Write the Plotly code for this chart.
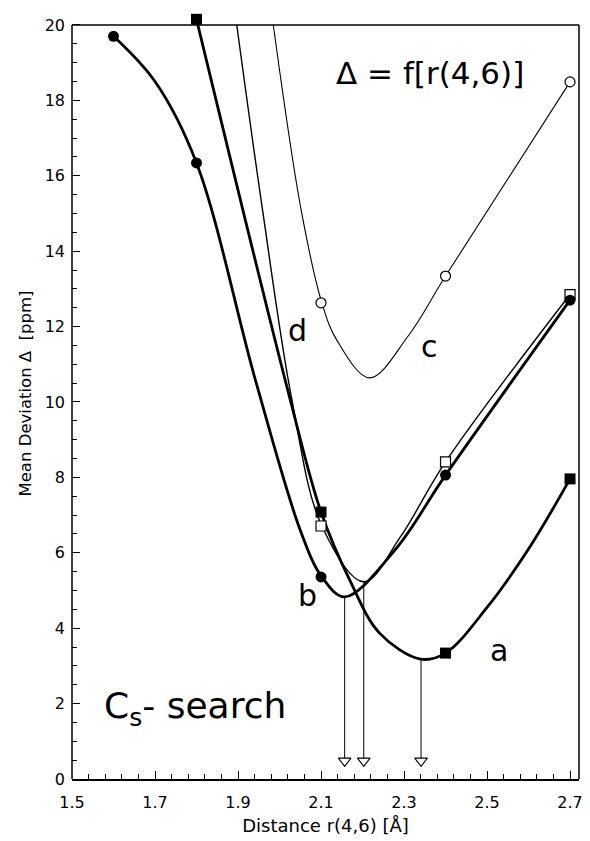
import plotly.graph_objects as go

# ---- measured points (markers) ----
a_x = [1.8, 2.1, 2.4, 2.7]
a_y = [20.15, 7.08, 3.34, 7.96]
b_x = [1.6, 1.8, 2.1, 2.4, 2.7]
b_y = [19.7, 16.34, 5.36, 8.06, 12.7]
c_x = [2.1, 2.4, 2.7]
c_y = [12.63, 13.34, 18.49]
d_x = [2.1, 2.4, 2.7]
d_y = [6.71, 8.41, 12.85]

# ---- fitted curves, points ----
a_line_x = [1.8, 2.026, 2.1, 2.169, 2.241, 2.34, 2.4, 2.5, 2.6, 2.7]
a_line_y = [20.15, 10.05, 7.08, 5.28, 3.87, 3.18, 3.34, 4.55, 6.1, 7.96]
b_line_x = [1.6, 1.7, 1.8, 1.942, 2.05, 2.102, 2.157, 2.28, 2.4, 2.7]
b_line_y = [19.7, 18.5, 16.34, 10.58, 6.6, 5.36, 4.83, 6.1, 8.06, 12.7]
c_line_x = [1.985, 2.052, 2.102, 2.138, 2.217, 2.31, 2.4, 2.7]
c_line_y = [20.0, 15.1, 12.63, 11.64, 10.64, 11.75, 13.34, 18.49]
d_line_x = [1.897, 1.959, 2.03, 2.102, 2.203, 2.29, 2.4, 2.7]
d_line_y = [20.0, 15.1, 10.05, 6.71, 5.23, 6.4, 8.41, 12.85]

# ---- minima arrows ----
arrow_x = [2.157, 2.203, 2.341]
arrow_top = [4.83, 5.23, 3.18]
arrow_base = [0.48, 0.48, 0.48]

# ---- text labels ----
curve_labels = ["a", "b", "c", "d"]
curve_label_x = [2.528, 2.067, 2.361, 2.043]
curve_label_y = [3.42, 4.88, 11.46, 11.9]

x_ticks = [1.5, 1.7, 1.9, 2.1, 2.3, 2.5, 2.7]
y_ticks = [0, 2, 4, 6, 8, 10, 12, 14, 16, 18, 20]
y_frame_top = 20

FONT = "DejaVu Sans"
fig = go.Figure()

# arrows (vertical lines)
for x, top, base in zip(arrow_x, arrow_top, arrow_base):
    fig.add_trace(go.Scatter(x=[x, x], y=[top, base], mode="lines",
                             line=dict(color="black", width=1), hoverinfo="skip"))
fig.add_trace(go.Scatter(x=arrow_x, y=arrow_base, mode="markers",
                         marker=dict(symbol="triangle-down", size=11, color="white",
                                     line=dict(color="black", width=1.1))))

# curves
fig.add_trace(go.Scatter(x=c_line_x, y=c_line_y, mode="lines", line_shape="spline",
                         line=dict(color="black", width=1.1)))
fig.add_trace(go.Scatter(x=d_line_x, y=d_line_y, mode="lines", line_shape="spline",
                         line=dict(color="black", width=1.4)))
fig.add_trace(go.Scatter(x=b_line_x, y=b_line_y, mode="lines", line_shape="spline",
                         line=dict(color="black", width=2.8)))
fig.add_trace(go.Scatter(x=a_line_x, y=a_line_y, mode="lines", line_shape="spline",
                         line=dict(color="black", width=2.8)))

# markers
fig.add_trace(go.Scatter(x=c_x, y=c_y, mode="markers", cliponaxis=False,
                         marker=dict(symbol="circle", size=10, color="white",
                                     line=dict(color="black", width=1.2))))
fig.add_trace(go.Scatter(x=d_x, y=d_y, mode="markers", cliponaxis=False,
                         marker=dict(symbol="square", size=10, color="white",
                                     line=dict(color="black", width=1.2))))
fig.add_trace(go.Scatter(x=b_x, y=b_y, mode="markers", cliponaxis=False,
                         marker=dict(symbol="circle", size=11, color="black")))
fig.add_trace(go.Scatter(x=a_x, y=a_y, mode="markers", cliponaxis=False,
                         marker=dict(symbol="square", size=11, color="black")))

for t, x, y in zip(curve_labels, curve_label_x, curve_label_y):
    fig.add_annotation(x=x, y=y, text=t, showarrow=False,
                       font=dict(family=FONT, size=30, color="black"))

fig.add_annotation(x=2.131, y=18.73, text="Δ = f[r(4,6)]", showarrow=False, xanchor="left",
                   font=dict(family=FONT, size=31, color="black"))
fig.add_annotation(x=1.572, y=1.86, text="C<sub>s</sub>- search", showarrow=False, xanchor="left",
                   font=dict(family=FONT, size=36, color="black"))

# frame (left, top, right) ending at y = 20
frame = dict(type="line", line=dict(color="black", width=1.5), layer="above")
fig.add_shape(xref="paper", yref="y", x0=0, x1=0, y0=0, y1=y_frame_top, **frame)
fig.add_shape(xref="paper", yref="y", x0=0, x1=1, y0=y_frame_top, y1=y_frame_top, **frame)
fig.add_shape(xref="paper", yref="y", x0=1, x1=1, y0=0, y1=y_frame_top, **frame)

fig.update_layout(
    width=590, height=841,
    margin=dict(l=72, r=7, t=8, b=62),
    paper_bgcolor="white", plot_bgcolor="white",
    showlegend=False,
    font=dict(family=FONT, color="black"),
)
fig.update_xaxes(range=[1.5, 2.7216], tickvals=x_ticks, ticktext=[f"{v:.1f}" for v in x_ticks],
                 ticks="inside", ticklen=8, tickwidth=1, tickcolor="black",
                 minor=dict(dtick=0.04, tick0=1.5, ticks="inside", ticklen=5, tickcolor="black"),
                 showline=True, linecolor="black", linewidth=1.5, mirror=False,
                 showgrid=False, zeroline=False, ticklabeloverflow="allow",
                 tickfont=dict(size=16), ticklabelstandoff=8,
                 title=dict(text="Distance r(4,6) [Å]", font=dict(size=18), standoff=8))
fig.update_yaxes(range=[0, 20.45], tickvals=y_ticks,
                 ticks="inside", ticklen=8, tickwidth=1, tickcolor="black",
                 minor=dict(dtick=0.5, tick0=0, ticks="inside", ticklen=5, tickcolor="black"),
                 showline=False, mirror=False,
                 showgrid=False, zeroline=False,
                 tickfont=dict(size=16), ticklabelstandoff=6,
                 title=dict(text="Mean Deviation Δ  [ppm]", font=dict(size=16.5), standoff=8))

fig.write_html("out.html", config={"displayModeBar": False},
               post_script="document.body.style.margin='0';")
